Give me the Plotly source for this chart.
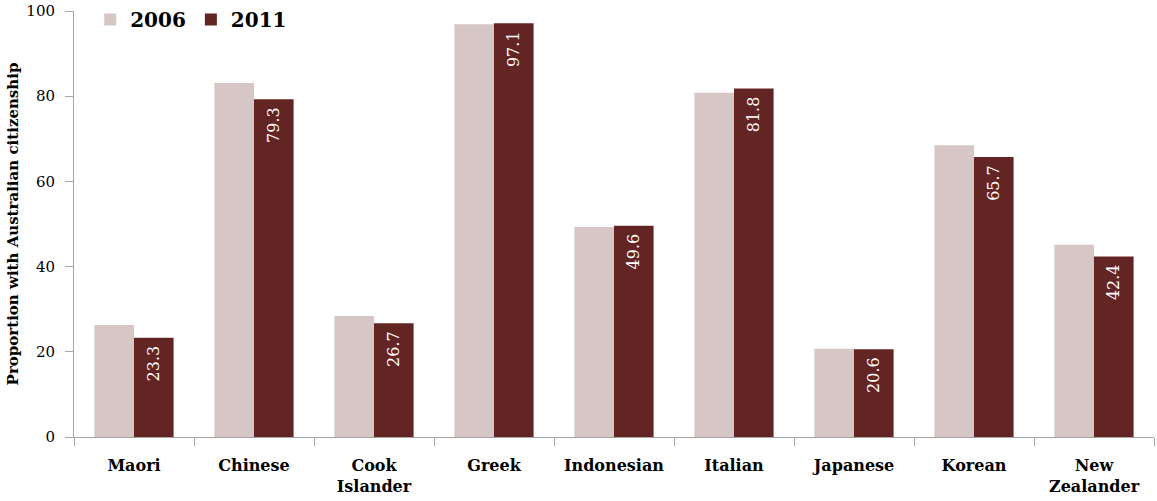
import plotly.graph_objects as go

categories = ["Maori", "Chinese", "Cook<br>Islander", "Greek", "Indonesian",
              "Italian", "Japanese", "Korean", "New<br>Zealander"]
values_2006 = [26.3, 83.1, 28.4, 96.9, 49.3, 80.8, 20.7, 68.5, 45.1]
values_2011 = [23.3, 79.3, 26.7, 97.1, 49.6, 81.8, 20.6, 65.7, 42.4]

SERIF = "DejaVu Serif"

fig = go.Figure()
fig.add_trace(go.Bar(
    name="2006", x=categories, y=values_2006,
    marker=dict(color="#d7c6c6", line=dict(width=0)),
))
fig.add_trace(go.Bar(
    name="2011", x=categories, y=values_2011,
    marker=dict(color="#632424", line=dict(width=0)),
    # trailing no-break space keeps the label a little below the bar top
    text=[f"{v:.1f}\u00a0" for v in values_2011],
    textposition="inside", insidetextanchor="end", textangle=-90,
    textfont=dict(family=SERIF, size=16, color="white"),
    cliponaxis=False,
))

fig.update_layout(
    width=1157, height=501,
    margin=dict(l=74, r=3, t=11, b=64, autoexpand=False),
    paper_bgcolor="white", plot_bgcolor="white",
    barmode="group", bargap=0.34, bargroupgap=0,
    font=dict(family=SERIF, color="black"),
    showlegend=True,
    legend=dict(orientation="h", x=0.015, y=0.98, xanchor="left", yanchor="middle",
                font=dict(family=SERIF, size=20, color="black", weight="bold"),
                bgcolor="rgba(0,0,0,0)", itemwidth=30, tracegroupgap=0),
    xaxis=dict(
        showline=True, linecolor="#a6a6a6", linewidth=1,
        ticks="outside", tickson="boundaries", ticklen=8, tickcolor="#a6a6a6",
        tickangle=0, ticklabelstandoff=14,
        tickfont=dict(family=SERIF, size=16, color="black", weight="bold"),
        showgrid=False,
    ),
    yaxis=dict(
        range=[0, 100], dtick=20, showgrid=False,
        showline=True, linecolor="#a6a6a6", linewidth=1,
        ticks="outside", ticklen=8, tickcolor="#a6a6a6",
        ticklabelstandoff=7,
        tickfont=dict(family=SERIF, size=15, color="black"),
        title=dict(text="Proportion with Australian citizenship",
                   font=dict(family=SERIF, size=15, color="black", weight="bold"),
                   standoff=4),
    ),
)

fig.write_html("out.html")
